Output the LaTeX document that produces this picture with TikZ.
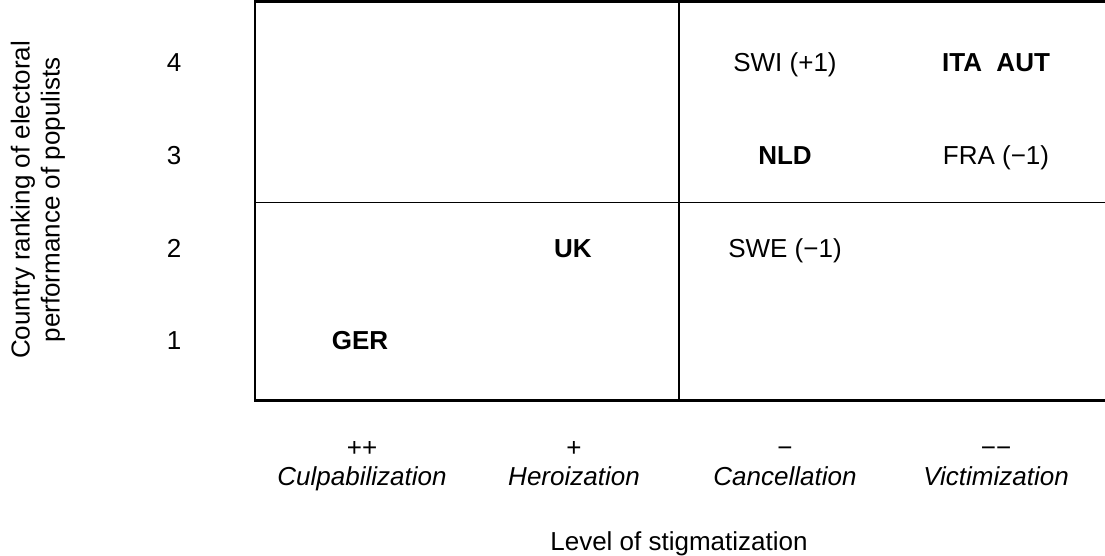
\documentclass[tikz,border=0pt]{standalone}
\usepackage{fontspec}
\setmainfont{Liberation Sans}
\begin{document}
\begin{tikzpicture}[x=0.5pt,y=-0.5pt,
  lbl/.style={inner sep=0pt,anchor=base,font=\fontsize{13}{15.6}\selectfont},
  bld/.style={lbl,font=\fontsize{13}{15.6}\selectfont\bfseries},
  itl/.style={lbl,font=\fontsize{13}{15.6}\selectfont\itshape},
  outer/.style={line width=1.25pt,black},
  divider/.style={line width=0.8pt,black}]
\useasboundingbox (0,0) rectangle (1105,556);
\clip (0,0) rectangle (1105,556);
% frame
\coordinate (tl) at (255,1.5);
\coordinate (tr) at (1110,1.5);
\coordinate (bl) at (255,400.5);
\coordinate (br) at (1110,400.5);
\coordinate (vt) at (679,1.5);
\coordinate (vb) at (679,400.5);
\coordinate (hl) at (255,202.5);
\coordinate (hr) at (1110,202.5);
\draw[outer] (tr) -- (tl) -- (bl) -- (br);
\draw[divider,line width=0.95pt] (vt) -- (vb);
\draw[divider,line width=0.7pt] (hl) -- (hr);
% y-axis title
\node[font=\fontsize{13}{15}\selectfont,align=center,rotate=90,inner sep=0pt] (ytitle) at (38,200)
  {Country ranking of electoral\\performance of populists};
% row numbers
\node[lbl] (r4) at (174,72) {4};
\node[lbl] (r3) at (174,165) {3};
\node[lbl] (r2) at (174,257) {2};
\node[lbl] (r1) at (174,350) {1};
% entries
\node[lbl] (swi) at (785,72) {SWI (+1)};
\node[bld] (ita) at (996,72) {ITA\ \ AUT};
\node[bld] (nld) at (785,165) {NLD};
\node[lbl] (fra) at (996,165) {FRA (−1)};
\node[bld] (uk) at (573,257) {UK};
\node[lbl] (swe) at (785,257) {SWE (−1)};
\node[bld] (ger) at (360,350) {GER};
% x categories
\node[lbl] (s1) at (362,457) {++};
\node[itl] (c1) at (362,485) {Culpabilization};
\node[lbl] (s2) at (574,457) {+};
\node[itl] (c2) at (574,485) {Heroization};
\node[lbl] (s3) at (785,457) {−};
\node[itl] (c3) at (785,485) {Cancellation};
\node[lbl] (s4) at (996,457) {−−};
\node[itl] (c4) at (996,485) {Victimization};
% x-axis title
\node[lbl] (xtitle) at (679,550) {Level of stigmatization};
\end{tikzpicture}
\end{document}
